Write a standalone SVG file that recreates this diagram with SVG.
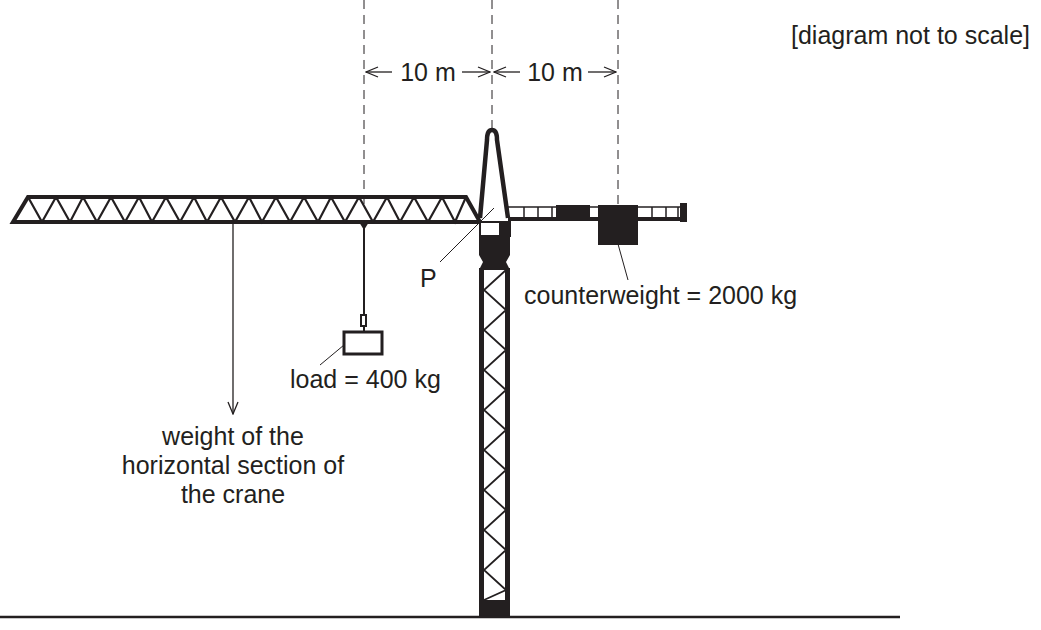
<svg xmlns="http://www.w3.org/2000/svg" width="1041" height="630" viewBox="0 0 1041 630">
<style>
text{font-family:"Liberation Sans",Arial,sans-serif;font-size:25px;fill:#231f20}
.d{stroke:#231f20;stroke-width:1;stroke-dasharray:9,6;fill:none}
.t{stroke:#231f20;fill:none}
.k{fill:#231f20}
</style>
<defs>
<marker id="a" markerWidth="14" markerHeight="12" refX="13" refY="6" orient="auto" markerUnits="userSpaceOnUse"><path d="M1,1 L13,6 L1,11" fill="none" stroke="#231f20" stroke-width="1.3"/></marker>
</defs>
<rect width="1041" height="630" fill="#fff"/>
<text x="1030" y="44" text-anchor="end">[diagram not to scale]</text>
<g id="dims">
<line class="d" x1="364" y1="0" x2="364" y2="205"/>
<line class="d" x1="492" y1="0" x2="492" y2="128"/>
<line class="d" x1="618" y1="0" x2="618" y2="205"/>
<line class="t" stroke-width="1.3" x1="392" y1="72" x2="366" y2="72" marker-end="url(#a)"/>
<line class="t" stroke-width="1.3" x1="462" y1="72" x2="490" y2="72" marker-end="url(#a)"/>
<line class="t" stroke-width="1.3" x1="520" y1="72" x2="494" y2="72" marker-end="url(#a)"/>
<line class="t" stroke-width="1.3" x1="588" y1="72" x2="616" y2="72" marker-end="url(#a)"/>
<text x="428" y="81" text-anchor="middle">10 m</text>
<text x="555" y="81" text-anchor="middle">10 m</text>
</g>
<g id="jib">
<path class="t" stroke-width="4" d="M13,222 L28,197 L466,197 L480,222 Z"/>
<path class="t" stroke-width="2.2" d="M28,197 L42,222 L56,197 L70,222 L83,197 L97,222 L111,197 L125,222 L139,197 L152,222 L166,197 L180,222 L194,197 L207,222 L221,197 L235,222 L249,197 L262,222 L276,197 L290,222 L304,197 L318,222 L331,197 L345,222 L359,197 L373,222 L387,197 L400,222 L414,197 L428,222 L442,197 L455,222 L466,197"/>
</g>
<g id="counterjib">
<line class="t" stroke-width="1.5" x1="508" y1="207" x2="684" y2="207"/>
<line class="t" stroke-width="4" x1="508" y1="219" x2="686" y2="219"/>
<path class="t" stroke-width="1.5" d="M524,207V219M538,207V219M552,207V219M605,207V219M652,207V219M666,207V219M678,207V219"/>
<rect class="k" x="556" y="205" width="34" height="14"/>
<rect class="k" x="598" y="205" width="40" height="40"/>
<rect class="k" x="680" y="203" width="7" height="19"/>
</g>
<g id="mast">
<path d="M480,218 L487,140 Q487,130 492,130 Q497,130 497,140 L508,218" class="t" stroke-width="4.5" stroke-linejoin="round"/>
</g>
<g id="tower">
<rect x="480" y="222" width="30" height="14" fill="#fff" stroke="#231f20" stroke-width="2"/>
<rect class="k" x="499" y="222" width="11" height="14"/>
<path class="k" d="M479,236 H510 V255 L506,262 L510,270 H479 L483,262 L479,255 Z"/>
<rect class="k" x="479" y="268" width="5" height="348"/>
<rect class="k" x="505" y="268" width="5" height="348"/>
<rect class="k" x="479" y="600" width="31" height="16"/>
<path class="t" stroke-width="1.8" d="M506,270 L484,290 L506,310 L484,330 L506,350 L484,370 L506,390 L484,410 L506,430 L484,450 L506,470 L484,490 L506,510 L484,530 L506,550 L484,570 L506,590 L484,600"/>
</g>
<line x1="0" y1="617" x2="900" y2="617" stroke="#231f20" stroke-width="2.5"/>
<g id="load">
<path class="k" d="M359,222 H369 L364,230 Z"/>
<line class="t" stroke-width="2" x1="364" y1="222" x2="364" y2="316"/>
<rect x="361" y="315" width="5" height="11" fill="#fff" stroke="#231f20" stroke-width="2"/>
<line class="t" stroke-width="2" x1="364" y1="326" x2="364" y2="332"/>
<rect x="344" y="332" width="38" height="22" fill="#fff" stroke="#231f20" stroke-width="3"/>
</g>
<g id="connectors">
<line class="t" x1="344" y1="345" x2="320" y2="365"/>
<line class="t" x1="440" y1="262" x2="494" y2="208"/>
<line class="t" x1="618" y1="244" x2="628" y2="280"/>
<line class="t" stroke-width="1.3" x1="233" y1="222" x2="233" y2="414" marker-end="url(#a)"/>
</g>
<text x="290" y="388">load = 400 kg</text>
<text x="420" y="287">P</text>
<text x="524" y="304">counterweight = 2000 kg</text>
<text x="233" y="445" text-anchor="middle">weight of the</text>
<text x="233" y="474" text-anchor="middle">horizontal section of</text>
<text x="233" y="503" text-anchor="middle">the crane</text>
</svg>
